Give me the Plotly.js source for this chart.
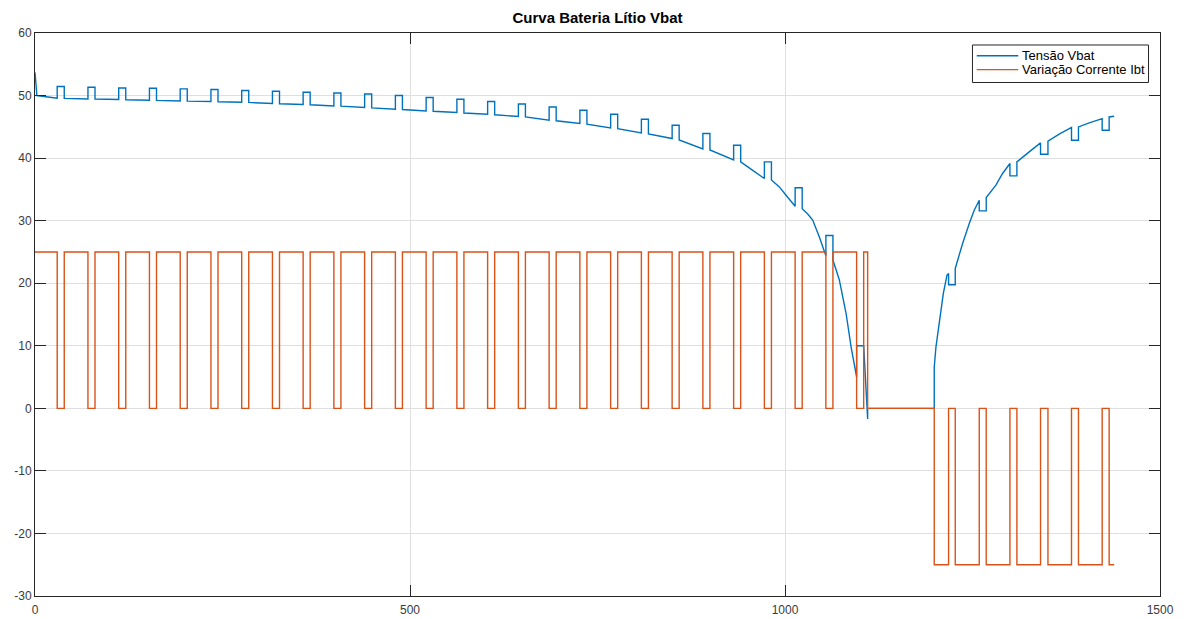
<!DOCTYPE html>
<html>
<head>
<meta charset="utf-8">
<script src="https://cdn.plot.ly/plotly-3.0.1.min.js"></script>
<style>
  html, body { margin: 0; padding: 0; background: #ffffff; }
  #chart { width: 1186px; height: 619px; }
</style>
</head>
<body>
<div id="chart"></div>
<script>
// ---- Discharge phase (25 A pulses with rest intervals) ----
const startT = [0, 2.5];
const startV = [53.7, 50.0];

const disRestOn  = [29.6, 70.6, 111.6, 152.6, 193.6, 234.6, 275.6, 316.6, 357.5, 398.5, 439.5, 480.5, 521.5, 562.5, 603.5, 644.5, 685.5, 726.5, 767.5, 808.5, 849.5, 890.5, 931.5, 972.5, 1013.5, 1054.5, 1095.5];
const disRestOff = [39.0, 80.0, 121.0, 162.0, 203.0, 244.0, 285.0, 326.0, 366.9, 407.9, 448.9, 489.9, 530.9, 571.9, 612.9, 653.9, 694.9, 735.9, 776.9, 817.9, 858.9, 899.9, 940.9, 981.9, 1022.9, 1063.9, 1104.9];

// Vbat just before each rest, during the rest, and right after it
const disVBefore = [49.57, 49.46, 49.36, 49.25, 49.14, 49.04, 48.93, 48.72, 48.56, 48.34, 48.08, 47.81, 47.54, 47.28, 47.01, 46.65, 46.05, 45.53, 44.83, 44.03, 43.13, 41.47, 39.7, 36.74, 32.3, 24.4, 5.0];
const disVTop    = [51.45, 51.33, 51.2, 51.17, 51.06, 50.96, 50.8, 50.69, 50.53, 50.42, 50.26, 50.0, 49.68, 49.41, 49.04, 48.65, 48.18, 47.65, 47.01, 46.21, 45.26, 43.93, 42.06, 39.4, 35.27, 27.64, 10.0];
const disVAfter  = [49.55, 49.44, 49.33, 49.22, 49.11, 49.0, 48.9, 48.68, 48.52, 48.3, 48.03, 47.76, 47.48, 47.2, 46.92, 46.58, 45.97, 45.42, 44.7, 43.85, 42.9, 41.3, 39.4, 36.5, 31.9, 23.7, 10.0];

// extra Vbat samples along the knee of the discharge curve
const kneeT = [957.0, 992.5, 1001.4, 1030.0, 1036.9, 1045.8, 1068.0, 1072.5, 1081.4, 1088.1];
const kneeV = [38.05, 35.4, 34.07, 31.1, 30.1, 27.4, 22.2, 20.5, 15.2, 9.84];

const disEndT = 1110.2;
const disEndV = -1.7;
const disCurrent = 25;

// ---- Charge phase (-25 A pulses with rest intervals) ----
const chgStartT = 1199.0;
const chgCurveT = [1199.0, 1201.3, 1205.7, 1211.1, 1216.0, 1236.8, 1245.7, 1252.3, 1281.2, 1290.1, 1325.6, 1365.6, 1405.6];
const chgCurveV = [6.6, 9.84, 14.1, 18.37, 21.3, 26.36, 29.55, 31.68, 35.67, 37.54, 41.0, 43.82, 45.62];

const chgRestOn  = [1218.1, 1259.0, 1299.9, 1340.7, 1382.0, 1422.9];
const chgRestOff = [1227.0, 1268.3, 1309.2, 1350.6, 1391.3, 1432.2];
const chgVBefore = [21.56, 33.27, 39.14, 42.43, 44.9, 46.3];
const chgVBottom = [19.75, 31.57, 37.16, 40.62, 42.86, 44.46];
const chgVAfter  = [22.36, 33.7, 39.4, 42.7, 44.98, 46.58];

const chgEndT = 1438.9;
const chgEndV = 46.69;
const chgCurrent = -25;

const seriesNames = ['Tensão Vbat', 'Variação Corrente Ibt'];
const seriesColors = ['#0072BD', '#D95319'];

// ---- Build the Vbat trace ----
const vx = [], vy = [];
function pushV(t, v) { vx.push(t); vy.push(v); }

for (let i = 0; i < startT.length; i++) pushV(startT[i], startV[i]);
for (let k = 0; k < disRestOn.length; k++) {
  pushV(disRestOn[k], disVBefore[k]);
  pushV(disRestOn[k], disVTop[k]);
  pushV(disRestOff[k], disVTop[k]);
  pushV(disRestOff[k], disVAfter[k]);
  const next = k + 1 < disRestOn.length ? disRestOn[k + 1] : disEndT;
  for (let j = 0; j < kneeT.length; j++) {
    if (kneeT[j] > disRestOff[k] && kneeT[j] < next) pushV(kneeT[j], kneeV[j]);
  }
}
pushV(disEndT, disEndV);
pushV(disEndT, 0);
pushV(chgStartT, 0);

function pushChargeCurve(from, to) {
  for (let j = 0; j < chgCurveT.length; j++) {
    if (chgCurveT[j] >= from && chgCurveT[j] < to) pushV(chgCurveT[j], chgCurveV[j]);
  }
}
pushChargeCurve(chgStartT, chgRestOn[0]);
for (let k = 0; k < chgRestOn.length; k++) {
  pushV(chgRestOn[k], chgVBefore[k]);
  pushV(chgRestOn[k], chgVBottom[k]);
  pushV(chgRestOff[k], chgVBottom[k]);
  pushV(chgRestOff[k], chgVAfter[k]);
  const next = k + 1 < chgRestOn.length ? chgRestOn[k + 1] : chgEndT;
  pushChargeCurve(chgRestOff[k] + 1e-6, next);
}
pushV(chgEndT, chgEndV);

// ---- Build the current trace (square pulses) ----
const ix = [], iy = [];
function pushI(t, a) { ix.push(t); iy.push(a); }

pushI(0, disCurrent);
for (let k = 0; k < disRestOn.length; k++) {
  pushI(disRestOn[k], disCurrent);
  pushI(disRestOn[k], 0);
  pushI(disRestOff[k], 0);
  pushI(disRestOff[k], disCurrent);
}
pushI(disEndT, disCurrent);
pushI(disEndT, 0);
pushI(chgStartT, 0);
pushI(chgStartT, chgCurrent);
for (let k = 0; k < chgRestOn.length; k++) {
  pushI(chgRestOn[k], chgCurrent);
  pushI(chgRestOn[k], 0);
  pushI(chgRestOff[k], 0);
  pushI(chgRestOff[k], chgCurrent);
}
pushI(chgEndT, chgCurrent);

const yTicks = [-30, -20, -10, 0, 10, 20, 30, 40, 50, 60];
const xTicks = [0, 500, 1000, 1500];

const lineWidth = 1.4;
const traces = [
  { x: vx, y: vy, type: 'scatter', mode: 'lines', name: seriesNames[0],
    line: { color: seriesColors[0], width: lineWidth } },
  { x: ix, y: iy, type: 'scatter', mode: 'lines', name: seriesNames[1],
    line: { color: seriesColors[1], width: lineWidth } }
];

const axisCommon = {
  showgrid: true, gridcolor: '#dfdfdf', gridwidth: 1,
  showline: true, linecolor: '#262626', linewidth: 1, mirror: 'ticks',
  ticks: 'inside', ticklen: 11, tickcolor: '#262626', tickwidth: 1,
  zeroline: false, tickfont: { size: 12, color: '#3a3a3a' }
};

// Legend box in the top-right corner of the axes (paper coordinates)
const legBox = { x0: 0.8333, x1: 0.9898, y0: 0.9121, y1: 0.9787 };
const legRowsY = [0.9595, 0.9350];
const legLineX = [0.8371, 0.8740];
const legTextX = 0.8765;

const shapes = [
  { type: 'rect', xref: 'paper', yref: 'paper', layer: 'above',
    x0: legBox.x0, x1: legBox.x1, y0: legBox.y0, y1: legBox.y1,
    fillcolor: '#ffffff', line: { color: '#262626', width: 1 } }
];
const annotations = [];
seriesNames.forEach((name, i) => {
  shapes.push({ type: 'line', xref: 'paper', yref: 'paper', layer: 'above',
    x0: legLineX[0], x1: legLineX[1], y0: legRowsY[i], y1: legRowsY[i],
    line: { color: seriesColors[i], width: lineWidth } });
  annotations.push({ xref: 'paper', yref: 'paper', x: legTextX, y: legRowsY[i],
    xanchor: 'left', yanchor: 'middle', showarrow: false, text: name,
    borderpad: 0, font: { size: 13, color: '#000000' } });
});

const layout = {
  width: 1186, height: 619,
  margin: { l: 35, r: 26, t: 33, b: 23 },
  paper_bgcolor: '#ffffff', plot_bgcolor: '#ffffff',
  font: { family: 'Liberation Sans, Arial, sans-serif', size: 12, color: '#262626' },
  title: { text: '<b>Curva Bateria Lítio Vbat</b>', font: { size: 15, color: '#000000' },
           xref: 'paper', x: 0.5, xanchor: 'center', yref: 'container', y: 0.971, yanchor: 'middle' },
  xaxis: Object.assign({}, axisCommon, {
    range: [0, 1500], tickvals: xTicks, ticktext: xTicks.map(String), ticklabelstandoff: 3
  }),
  yaxis: Object.assign({}, axisCommon, {
    range: [-30, 60], tickvals: yTicks, ticktext: yTicks.map(v => String(v))
  }),
  showlegend: false,
  shapes: shapes,
  annotations: annotations,
  hovermode: false
};

Plotly.newPlot('chart', traces, layout, { staticPlot: true, displayModeBar: false });
</script>
</body>
</html>
